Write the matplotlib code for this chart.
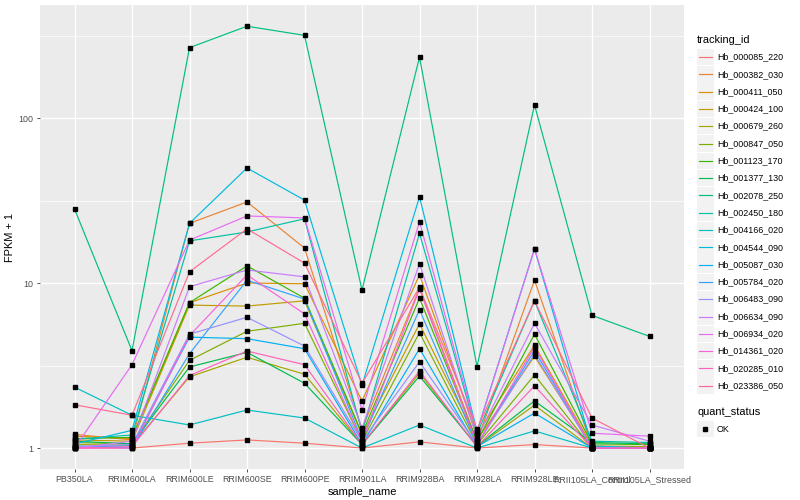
import numpy as np
import matplotlib
matplotlib.use("Agg")
import matplotlib.pyplot as plt
from matplotlib.patches import Rectangle
from matplotlib.lines import Line2D

plt.rcParams['font.family'] = ['Liberation Sans', 'DejaVu Sans']

# samples on the x axis
sample_name = ["PB350LA", "RRIM600LA", "RRIM600LE", "RRIM600SE", "RRIM600PE",
               "RRIM901LA", "RRIM928BA", "RRIM928LA", "RRIM928LE",
               "RRII105LA_Control", "RRII105LA_Stressed"]

# FPKM + 1 per transcript
hb_000085_220 = [1.00, 1.00, 1.07, 1.12, 1.07, 1.00, 1.09, 1.00, 1.05, 1.00, 1.00]
hb_000382_030 = [1.21, 1.12, 23.0, 31.0, 16.3, 1.30, 9.3, 1.10, 10.4, 1.02, 1.00]
hb_000411_050 = [1.18, 1.14, 7.6, 10.0, 9.9, 1.93, 11.2, 1.20, 4.2, 1.03, 1.02]
hb_000424_100 = [1.12, 1.10, 7.35, 7.25, 7.8, 1.20, 5.65, 1.12, 3.6, 1.02, 1.00]
hb_000679_260 = [1.05, 1.04, 2.7, 3.55, 2.8, 1.05, 2.85, 1.02, 1.82, 1.00, 1.00]
hb_000847_050 = [1.08, 1.06, 3.4, 5.1, 5.7, 1.10, 5.0, 1.05, 2.77, 1.00, 1.02]
hb_001123_170 = [1.14, 1.16, 7.6, 12.7, 8.1, 1.22, 8.1, 1.10, 4.9, 1.06, 1.05]
hb_001377_130 = [1.10, 1.06, 3.1, 3.8, 2.47, 1.05, 2.73, 1.03, 1.93, 1.08, 1.06]
hb_002078_250 = [28.1, 3.89, 267, 360, 317, 9.07, 234, 3.11, 120, 6.37, 4.75]
hb_002450_180 = [1.13, 1.20, 18.0, 20.4, 24.5, 1.25, 20.0, 1.22, 7.8, 1.10, 1.08]
hb_004166_020 = [2.34, 1.58, 1.38, 1.70, 1.52, 1.00, 1.38, 1.00, 1.27, 1.00, 1.00]
hb_004544_090 = [1.06, 1.28, 23.0, 49.8, 31.8, 2.40, 33.3, 1.26, 16.1, 1.03, 1.00]
hb_005087_030 = [1.02, 1.03, 4.7, 4.6, 4.0, 1.05, 4.0, 1.02, 1.63, 1.00, 1.00]
hb_005784_020 = [1.03, 1.00, 3.73, 10.4, 8.0, 1.12, 6.9, 1.05, 3.9, 1.00, 1.00]
hb_006483_090 = [1.02, 1.05, 4.9, 6.2, 4.15, 1.10, 3.33, 1.05, 3.7, 1.00, 1.00]
hb_006634_090 = [1.00, 1.10, 9.5, 12.0, 10.9, 1.32, 13.1, 1.15, 5.7, 1.38, 1.10]
hb_006934_020 = [1.00, 3.20, 18.2, 25.5, 24.8, 1.70, 23.5, 1.25, 16.1, 1.23, 1.18]
hb_014361_020 = [1.00, 1.00, 4.8, 11.2, 6.5, 1.10, 9.2, 1.05, 4.1, 1.00, 1.00]
hb_020285_010 = [1.00, 1.02, 2.75, 3.87, 3.2, 1.05, 2.93, 1.02, 2.38, 1.00, 1.00]
hb_023386_050 = [1.83, 1.58, 11.7, 21.3, 13.2, 2.47, 9.4, 1.30, 7.8, 1.52, 1.00]

tracking_id = ["Hb_000085_220", "Hb_000382_030", "Hb_000411_050", "Hb_000424_100",
               "Hb_000679_260", "Hb_000847_050", "Hb_001123_170", "Hb_001377_130",
               "Hb_002078_250", "Hb_002450_180", "Hb_004166_020", "Hb_004544_090",
               "Hb_005087_030", "Hb_005784_020", "Hb_006483_090", "Hb_006634_090",
               "Hb_006934_020", "Hb_014361_020", "Hb_020285_010", "Hb_023386_050"]
series = [hb_000085_220, hb_000382_030, hb_000411_050, hb_000424_100,
          hb_000679_260, hb_000847_050, hb_001123_170, hb_001377_130,
          hb_002078_250, hb_002450_180, hb_004166_020, hb_004544_090,
          hb_005087_030, hb_005784_020, hb_006483_090, hb_006634_090,
          hb_006934_020, hb_014361_020, hb_020285_010, hb_023386_050]

# ggplot2 default hue palette for 20 levels
colors = ["#F8766D", "#EA8331", "#D89000", "#C09B00", "#A3A500", "#7CAE00",
          "#39B600", "#00BB4E", "#00BF7D", "#00C1A3", "#00BFC4", "#00BAE0",
          "#00B0F6", "#35A2FF", "#9590FF", "#C77CFF", "#E76BF3", "#FA62DB",
          "#FF62BC", "#FF6C91"]

W, H = 800, 500
fig = plt.figure(figsize=(8, 5), dpi=100)
ax = fig.add_axes([40 / W, 31 / H, 644 / W, 464 / H])
ax.set_facecolor("#EBEBEB")

x = np.arange(len(sample_name))
for vals, col in zip(series, colors):
    ax.plot(x, vals, color=col, lw=0.85, zorder=3)
for vals in series:
    ax.plot(x, vals, ls="none", marker="s", ms=2.2, color="black", zorder=4)

ax.set_yscale("log")
ax.set_ylim(10 ** -0.127, 10 ** 2.685)
ax.set_xlim(-0.6, len(sample_name) - 0.4)

ax.set_yticks([1, 10, 100])
ax.set_yticklabels(["1", "10", "100"])
ax.set_yticks([10 ** 0.5, 10 ** 1.5, 10 ** 2.5], minor=True)
ax.yaxis.set_minor_formatter(plt.NullFormatter())
ax.set_xticks(x)
ax.set_xticklabels(sample_name)

ax.grid(True, which="major", color="white", lw=1.0, zorder=0)
ax.grid(True, which="minor", axis="y", color="white", lw=0.5, zorder=0)
ax.set_axisbelow(True)
for s in ax.spines.values():
    s.set_visible(False)
ax.tick_params(which="major", length=2.5, width=0.6, color="#333333",
               labelsize=6.4, labelcolor="#4D4D4D", pad=2)
ax.tick_params(which="minor", length=0)

ax.set_xlabel("sample_name", fontsize=7.9, labelpad=2)
ax.set_ylabel("FPKM + 1", fontsize=7.9, labelpad=3)

# legend drawn in pixel coordinates on the right
leg = fig.add_axes([0, 0, 1, 1], facecolor="none")
leg.set_xlim(0, W)
leg.set_ylim(H, 0)
leg.axis("off")

leg.text(697, 40, "tracking_id", fontsize=7.9, va="center", ha="left")
y0, step = 57, 17.3
for i, (name, col) in enumerate(zip(tracking_id, colors)):
    yc = y0 + i * step
    leg.add_patch(Rectangle((697, yc - 8.3), 16.6, 16.6, facecolor="#F2F2F2",
                            edgecolor="none"))
    leg.add_line(Line2D([698.5, 711.5], [yc, yc], color=col, lw=0.85))
    leg.text(717, yc, name, fontsize=6.4, va="center", ha="left")

yq = 412
leg.text(697, yq, "quant_status", fontsize=7.9, va="center", ha="left")
leg.add_patch(Rectangle((697, yq + 17 - 8.3), 16.6, 16.6, facecolor="#F2F2F2",
                        edgecolor="none"))
leg.plot([705.3], [yq + 17], marker="s", ms=2.2, color="black")
leg.text(717, yq + 17, "OK", fontsize=6.4, va="center", ha="left")

fig.savefig("out.png", dpi=100)
